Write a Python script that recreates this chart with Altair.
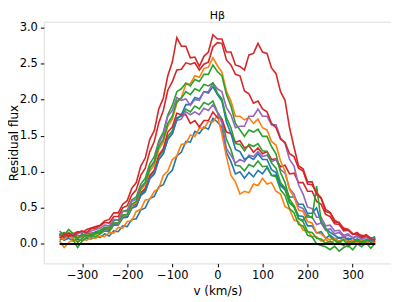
import altair as alt
import pandas as pd

v = list(range(-350, 351, 10))

blue_low = [0.10, 0.05, 0.08, 0.04, 0.07, 0.05, 0.08, 0.07, 0.10, 0.09,
            0.14, 0.11, 0.18, 0.17, 0.25, 0.24, 0.34, 0.35, 0.47, 0.50,
            0.63, 0.66, 0.79, 0.82, 0.96, 1.02, 1.22, 1.27, 1.42, 1.41,
            1.56, 1.53, 1.62, 1.59, 1.74, 1.69, 1.62, 1.27, 1.14, 0.97,
            1.00, 0.91, 0.99, 0.93, 1.02, 0.97, 1.06, 0.95, 0.95, 0.81,
            0.78, 0.65, 0.65, 0.55, 0.55, 0.42, 0.43, 0.50, 0.30, 0.22,
            0.16, 0.12, 0.08, 0.10, 0.06, 0.08, 0.04, 0.06, 0.03, 0.07, 0.05]
orange_low = [0.04, -0.05, 0.02, 0.06, 0.03, 0.07, 0.05, 0.09, 0.08, 0.11,
              0.10, 0.16, 0.15, 0.23, 0.22, 0.31, 0.32, 0.45, 0.48, 0.61,
              0.62, 0.73, 0.77, 0.95, 1.01, 1.17, 1.22, 1.38, 1.39, 1.51,
              1.49, 1.61, 1.60, 1.70, 1.69, 1.78, 1.52, 1.21, 0.95, 0.86,
              0.69, 0.73, 0.71, 0.83, 0.81, 0.91, 0.83, 0.85, 0.73, 0.69,
              0.52, 0.48, 0.33, 0.31, 0.19, 0.18, 0.10, 0.10, 0.04, 0.06,
              0.02, 0.05, 0.01, -0.02, 0.03, 0.00, 0.04, -0.01, 0.02, 0.05, 0.01]
green_low = [0.05, 0.09, 0.14, 0.06, -0.05, 0.04, 0.09, 0.12, 0.10, 0.14,
             0.18, 0.17, 0.26, 0.26, 0.36, 0.37, 0.49, 0.53, 0.69, 0.75,
             0.94, 1.01, 1.21, 1.29, 1.49, 1.57, 1.75, 1.77, 1.87, 1.83,
             1.91, 1.87, 1.96, 1.93, 1.98, 1.83, 1.73, 1.45, 1.31, 1.09,
             1.08, 1.01, 1.10, 1.07, 1.15, 1.07, 1.08, 0.95, 0.93, 0.75,
             0.67, 0.49, 0.43, 0.27, 0.25, 0.12, 0.10, 0.00, -0.02, -0.04,
             -0.08, -0.03, -0.10, -0.05, -0.02, -0.08, 0.00, -0.04, 0.02, -0.06, 0.01]
red_d = [0.14, 0.10, 0.13, 0.09, 0.12, 0.10, 0.13, 0.15, 0.14, 0.18,
         0.22, 0.20, 0.30, 0.28, 0.39, 0.39, 0.53, 0.55, 0.71, 0.77,
         0.95, 1.02, 1.23, 1.32, 1.55, 1.62, 1.81, 1.79, 1.79, 1.67,
         1.71, 1.62, 1.71, 1.71, 1.83, 1.75, 1.73, 1.55, 1.53, 1.41,
         1.43, 1.33, 1.36, 1.27, 1.33, 1.25, 1.28, 1.17, 1.18, 1.07,
         1.09, 0.97, 0.98, 0.85, 0.85, 0.73, 0.73, 0.59, 0.55, 0.41,
         0.38, 0.28, 0.27, 0.18, 0.19, 0.13, 0.16, 0.10, 0.13, 0.08, 0.08]
purple_low = [0.12, 0.07, 0.10, 0.13, 0.09, 0.11, 0.13, 0.11, 0.15, 0.16,
              0.20, 0.19, 0.28, 0.27, 0.37, 0.37, 0.50, 0.52, 0.67, 0.72,
              0.90, 0.97, 1.17, 1.25, 1.45, 1.53, 1.71, 1.73, 1.83, 1.79,
              1.83, 1.79, 1.88, 1.85, 1.93, 1.82, 1.68, 1.32, 1.23, 1.12,
              1.17, 1.14, 1.23, 1.21, 1.28, 1.21, 1.23, 1.14, 1.17, 1.03,
              0.98, 0.77, 0.69, 0.52, 0.49, 0.37, 0.37, 0.27, 0.29, 0.19,
              0.21, 0.14, 0.16, 0.10, 0.12, 0.09, 0.10, 0.07, 0.09, 0.06, 0.08]
blue_high = [0.13, 0.09, 0.11, 0.15, 0.10, 0.13, 0.11, 0.14, 0.16, 0.15,
             0.21, 0.19, 0.28, 0.27, 0.37, 0.37, 0.50, 0.52, 0.68, 0.73,
             0.91, 0.97, 1.17, 1.25, 1.45, 1.53, 1.73, 1.79, 1.93, 1.93,
             2.03, 2.01, 2.11, 2.09, 2.18, 2.07, 1.98, 1.69, 1.53, 1.31,
             1.28, 1.17, 1.21, 1.17, 1.25, 1.17, 1.17, 1.03, 0.99, 0.81,
             0.75, 0.57, 0.53, 0.39, 0.38, 0.25, 0.25, 0.15, 0.17, 0.08,
             0.12, 0.07, 0.09, 0.05, 0.08, 0.04, 0.07, 0.03, 0.06, 0.04, 0.07]
orange_high = [0.10, 0.06, 0.12, 0.08, 0.11, 0.09, 0.12, 0.14, 0.13, 0.17,
               0.21, 0.20, 0.29, 0.28, 0.39, 0.40, 0.53, 0.57, 0.75, 0.82,
               1.01, 1.09, 1.31, 1.41, 1.63, 1.73, 1.95, 2.03, 2.21, 2.22,
               2.33, 2.31, 2.43, 2.45, 2.58, 2.47, 2.38, 2.12, 1.98, 1.77,
               1.77, 1.72, 1.75, 1.67, 1.73, 1.61, 1.58, 1.42, 1.37, 1.15,
               1.01, 0.75, 0.65, 0.47, 0.45, 0.31, 0.29, 0.15, 0.14, 0.08,
               0.06, 0.08, 0.04, 0.07, 0.03, 0.05, 0.02, 0.06, 0.03, 0.00, 0.04]
green_high = [0.12, 0.16, 0.10, 0.13, 0.08, 0.12, 0.15, 0.13, 0.17, 0.19,
              0.23, 0.23, 0.33, 0.33, 0.45, 0.47, 0.61, 0.65, 0.83, 0.91,
              1.11, 1.21, 1.43, 1.55, 1.79, 1.92, 2.11, 2.15, 2.23, 2.19,
              2.28, 2.25, 2.35, 2.35, 2.48, 2.39, 2.33, 2.07, 1.91, 1.67,
              1.58, 1.49, 1.58, 1.55, 1.59, 1.49, 1.49, 1.35, 1.25, 0.99,
              0.85, 0.62, 0.53, 0.35, 0.31, 0.17, 0.16, 0.08, 0.07, 0.01,
              0.04, 0.00, 0.03, -0.02, 0.04, 0.02, 0.05, 0.03, 0.06, 0.02, 0.04]
red_a = [0.12, 0.15, 0.10, 0.14, 0.17, 0.15, 0.20, 0.22, 0.24, 0.26,
         0.32, 0.34, 0.43, 0.43, 0.55, 0.60, 0.77, 0.85, 1.08, 1.19,
         1.45, 1.57, 1.87, 2.02, 2.33, 2.52, 2.86, 2.74, 2.74, 2.58,
         2.59, 2.46, 2.60, 2.66, 2.90, 2.84, 2.84, 2.66, 2.66, 2.48,
         2.46, 2.41, 2.62, 2.64, 2.78, 2.66, 2.64, 2.44, 2.36, 2.11,
         1.99, 1.61, 1.34, 1.08, 1.04, 0.86, 0.86, 0.68, 0.63, 0.45,
         0.43, 0.30, 0.30, 0.20, 0.20, 0.14, 0.13, 0.12, 0.11, 0.07, 0.06]
purple_high = [0.15, 0.11, 0.16, 0.12, 0.14, 0.17, 0.15, 0.18, 0.20, 0.22,
               0.26, 0.25, 0.34, 0.33, 0.45, 0.45, 0.59, 0.62, 0.79, 0.85,
               1.05, 1.15, 1.39, 1.52, 1.77, 1.85, 2.03, 1.99, 2.01, 1.92,
               2.00, 1.99, 2.11, 2.11, 2.23, 2.15, 2.11, 1.89, 1.79, 1.61,
               1.63, 1.63, 1.77, 1.77, 1.87, 1.77, 1.77, 1.65, 1.65, 1.47,
               1.39, 1.17, 1.08, 0.82, 0.69, 0.51, 0.49, 0.37, 0.37, 0.25,
               0.26, 0.18, 0.19, 0.12, 0.14, 0.08, 0.12, 0.07, 0.10, 0.06, 0.09]
green_mid = [0.18, 0.12, 0.20, 0.14, 0.02, 0.08, 0.12, 0.10, 0.14, 0.16,
             0.21, 0.20, 0.29, 0.29, 0.40, 0.41, 0.55, 0.59, 0.77, 0.85,
             1.05, 1.13, 1.35, 1.45, 1.67, 1.77, 1.98, 2.02, 2.11, 2.07,
             2.15, 2.12, 2.21, 2.19, 2.23, 2.09, 2.01, 1.75, 1.61, 1.39,
             1.38, 1.29, 1.38, 1.35, 1.39, 1.29, 1.28, 1.12, 1.05, 0.85,
             0.77, 0.57, 0.51, 0.35, 0.33, 0.40, 0.36, 0.80, 0.32, 0.22,
             0.10, 0.05, 0.02, 0.06, -0.04, 0.02, 0.05, 0.01, 0.04, 0.08, 0.10]
red_b = [0.08, 0.12, 0.15, 0.11, 0.16, 0.18, 0.16, 0.21, 0.22, 0.25,
         0.30, 0.29, 0.38, 0.38, 0.50, 0.53, 0.68, 0.75, 0.95, 1.05,
         1.28, 1.42, 1.68, 1.85, 2.13, 2.25, 2.41, 2.42, 2.51, 2.49,
         2.51, 2.41, 2.49, 2.52, 2.73, 2.79, 2.78, 2.55, 2.48, 2.35,
         2.33, 2.12, 2.08, 1.95, 1.98, 1.87, 1.83, 1.67, 1.61, 1.45,
         1.41, 1.25, 1.21, 1.05, 1.01, 0.83, 0.82, 0.71, 0.64, 0.48,
         0.44, 0.33, 0.29, 0.22, 0.20, 0.14, 0.14, 0.09, 0.12, 0.07, 0.05]

series = [
    ("s01", "#1f77b4", blue_low),
    ("s02", "#ff7f0e", orange_low),
    ("s03", "#2ca02c", green_low),
    ("s04", "#d62728", red_d),
    ("s05", "#9467bd", purple_low),
    ("s06", "#1f77b4", blue_high),
    ("s07", "#ff7f0e", orange_high),
    ("s08", "#2ca02c", green_high),
    ("s09", "#d62728", red_a),
    ("s10", "#9467bd", purple_high),
    ("s11", "#2ca02c", green_mid),
    ("s12", "#d62728", red_b),
]

baseline_v = [-350, 350]
baseline_flux = [0.0, 0.0]
title_text = ["Hβ"]

rows = []
for name, col, vals in series:
    for xv, yv in zip(v, vals):
        rows.append({"v": xv, "flux": yv, "series": name})
df = pd.DataFrame(rows)
base_df = pd.DataFrame({"v": baseline_v, "flux": baseline_flux})
title_df = pd.DataFrame({"t": title_text})

names = [s[0] for s in series]
colors = [s[1] for s in series]

xscale = alt.Scale(domain=[-385, 385], nice=False, zero=False)
yscale = alt.Scale(domain=[-0.27, 3.08], nice=False, zero=False)

common = dict(grid=False, tickSize=3.5, labelPadding=3, labelFontSize=11.5,
              titleFontSize=12, titleFontWeight="normal", labelColor="black",
              titleColor="black", tickColor="black", domain=False,
              labelFont="DejaVu Sans", titleFont="DejaVu Sans")

xaxis = alt.Axis(values=[-300, -200, -100, 0, 100, 200, 300], title="v (km/s)",
                 titlePadding=4, **common)
yaxis = alt.Axis(values=[0, 0.5, 1, 1.5, 2, 2.5, 3], format=".1f", title="Residual flux",
                 titlePadding=2, titleBaseline="alphabetic", **common)

lines = alt.Chart(df).mark_line(strokeWidth=1.6, clip=True).encode(
    x=alt.X("v:Q", scale=xscale, axis=xaxis),
    y=alt.Y("flux:Q", scale=yscale, axis=yaxis),
    color=alt.Color("series:N", scale=alt.Scale(domain=names, range=colors), legend=None),
    order=alt.Order("v:Q"),
)

zero_line = alt.Chart(base_df).mark_line(color="black", strokeWidth=2, clip=True).encode(
    x=alt.X("v:Q", scale=xscale),
    y=alt.Y("flux:Q", scale=yscale),
)

title_mark = alt.Chart(title_df).mark_text(
    font="DejaVu Sans", fontSize=11, color="black", align="center", baseline="alphabetic"
).encode(text="t:N", x=alt.value(174.5), y=alt.value(-3))

chart = alt.layer(lines, zero_line, title_mark).properties(
    width=349, height=243,
    autosize=alt.AutoSizeParams(type="none"),
    padding={"left": 36, "top": 13, "right": 0, "bottom": 34},
).configure_view(stroke="black", strokeWidth=1).configure(background="white")

chart.save("out.html", embed_options={"renderer": "svg", "actions": False})
